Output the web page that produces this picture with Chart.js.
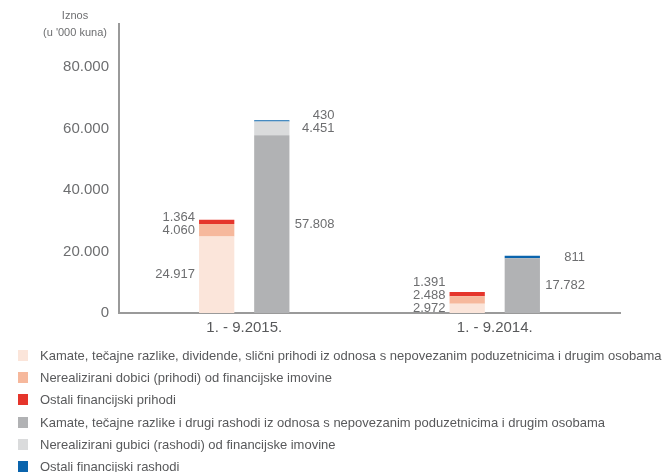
<!DOCTYPE html>
<html>
<head>
<meta charset="utf-8">
<script src="https://cdn.jsdelivr.net/npm/chart.js@4"></script>
<style>
  body { margin: 0; background: #fff; font-family: "Liberation Sans", Arial, sans-serif; }
  #wrap { position: relative; width: 664px; height: 472px; }
  #cv { position: absolute; left: 0; top: 0; }
  #ytitle { position: absolute; left: 30px; top: 7px; width: 90px; text-align: center;
    font-size: 11px; line-height: 17px; color: #6d6e70; }
  #legend { position: absolute; left: 18px; top: 344px; }
  .li { height: 22.3px; display: flex; align-items: center; font-size: 13px; color: #58595b; white-space: nowrap; }
  .li span.box { width: 10px; height: 11px; margin-right: 12px; flex: none; }
</style>
</head>
<body>
<div id="wrap">
  <canvas id="cv" width="664" height="345"></canvas>
  <div id="ytitle">Iznos<br>(u '000 kuna)</div>
  <div id="legend"></div>
</div>
<script>
const categories = ['1. - 9.2015.', '1. - 9.2014.'];

// prihodi (lijevi stupac)
const kamatePrihodi = [24917, 2972];
const nerealiziraniDobici = [4060, 2488];
const ostaliPrihodi = [1364, 1391];

// rashodi (desni stupac)
const kamateRashodi = [57808, 17782];
const nerealiziraniGubici = [4451, null];
const ostaliRashodi = [430, 811];

const seriesNames = [
  'Kamate, tečajne razlike, dividende, slični prihodi iz odnosa s nepovezanim poduzetnicima i drugim osobama',
  'Nerealizirani dobici (prihodi) od financijske imovine',
  'Ostali financijski prihodi',
  'Kamate, tečajne razlike i drugi rashodi iz odnosa s nepovezanim poduzetnicima i drugim osobama',
  'Nerealizirani gubici (rashodi) od financijske imovine',
  'Ostali financijski rashodi'
];
const seriesColors = ['#fbe5da', '#f6b89c', '#e5352b', '#b1b2b4', '#dadbdc', '#0a64ad'];
const yTicks = [0, 20000, 40000, 60000, 80000];

const fmt = v => v.toString().replace(/\B(?=(\d{3})+(?!\d))/g, '.');

const seriesData = [kamatePrihodi, nerealiziraniDobici, ostaliPrihodi, kamateRashodi, nerealiziraniGubici, ostaliRashodi];
const datasets = seriesData.map((d, i) => ({
  label: seriesNames[i],
  data: d,
  backgroundColor: seriesColors[i],
  borderWidth: 0,
  stack: i < 3 ? 'prihodi' : 'rashodi',
  categoryPercentage: 0.44,
  barPercentage: 0.64
}));

// value labels beside the bars, pushed up when they would overlap
const valueLabels = {
  id: 'valueLabels',
  afterDatasetsDraw(chart) {
    const ctx = chart.ctx;
    ctx.save();
    ctx.font = '13px "Liberation Sans", Arial, sans-serif';
    ctx.fillStyle = '#6d6e70';
    ctx.textAlign = 'right';
    ctx.textBaseline = 'middle';
    categories.forEach((c, ci) => {
      ['prihodi', 'rashodi'].forEach(stack => {
        let prevY = null;
        chart.data.datasets.forEach((ds, di) => {
          if (ds.stack !== stack) return;
          const v = ds.data[ci];
          if (v == null) return;
          const bar = chart.getDatasetMeta(di).data[ci];
          let y = (bar.y + bar.base) / 2;
          if (prevY !== null) y = Math.min(y, prevY - 13);
          prevY = y;
          const x = stack === 'prihodi' ? bar.x - bar.width / 2 - 4 : bar.x + bar.width / 2 + 45;
          ctx.fillText(fmt(v), x, y);
        });
      });
    });
    ctx.restore();
  }
};

const chart = new Chart(document.getElementById('cv'), {
  type: 'bar',
  data: { labels: categories, datasets: datasets },
  options: {
    responsive: false,
    animation: false,
    layout: { padding: { top: 24, right: 44, left: 0, bottom: 0 } },
    plugins: { legend: { display: false }, tooltip: { enabled: false } },
    scales: {
      x: {
        stacked: true,
        grid: { display: false, drawTicks: false },
        border: { color: '#9a9a9a', width: 2 },
        ticks: { color: '#58595b', font: { size: 15, family: '"Liberation Sans", Arial, sans-serif' }, padding: 6 },
        afterFit: s => { s.height = 32; }
      },
      y: {
        stacked: true,
        min: 0,
        max: 94000,
        grid: { display: false, drawTicks: false },
        border: { color: '#9a9a9a', width: 2 },
        afterBuildTicks: s => { s.ticks = yTicks.map(v => ({ value: v })); },
        ticks: {
          color: '#6d6e70',
          padding: 10,
          font: { size: 15, family: '"Liberation Sans", Arial, sans-serif' },
          callback: v => fmt(v)
        },
        afterFit: s => { s.width = 119; }
      }
    }
  },
  plugins: [valueLabels]
});

const legend = document.getElementById('legend');
chart.data.datasets.forEach(ds => {
  const row = document.createElement('div');
  row.className = 'li';
  const box = document.createElement('span');
  box.className = 'box';
  box.style.background = ds.backgroundColor;
  row.appendChild(box);
  row.appendChild(document.createTextNode(ds.label));
  legend.appendChild(row);
});
</script>
</body>
</html>
